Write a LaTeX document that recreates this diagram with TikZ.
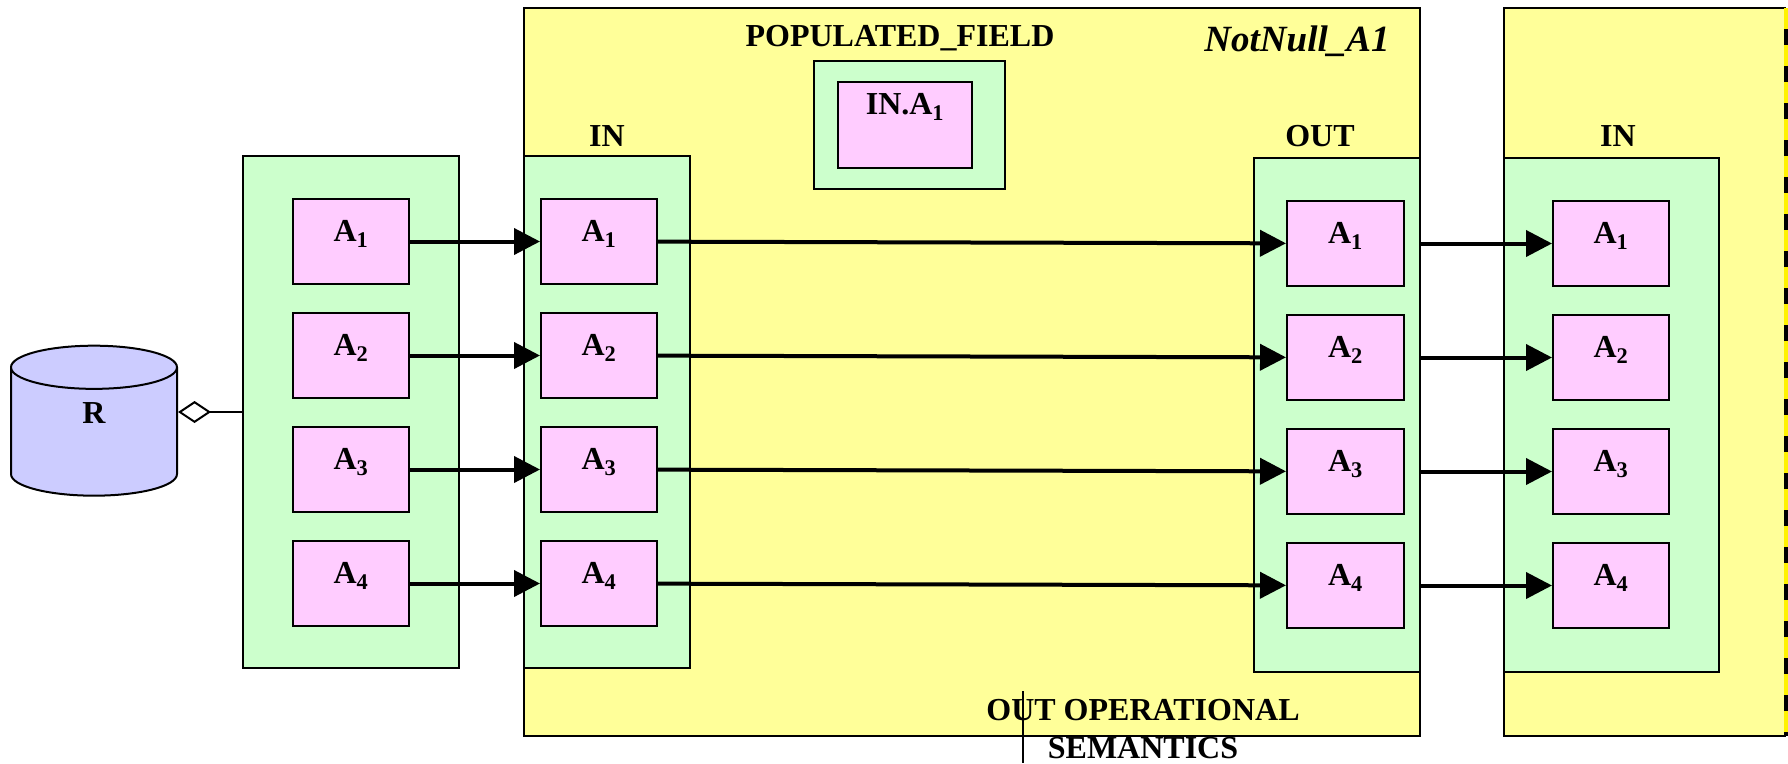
\documentclass[tikz,border=0pt]{standalone}
\usepackage{fontspec}
\setmainfont{Liberation Serif}
\usetikzlibrary{arrows.meta,shapes.geometric}
\definecolor{opyellow}{HTML}{FFFF99}
\definecolor{portgreen}{HTML}{CCFFCC}
\definecolor{attrpink}{HTML}{FFCCFF}
\definecolor{dbblue}{HTML}{CCCCFF}
\begin{document}
\begin{tikzpicture}[x=1pt, y=-1pt, font=\fontsize{32}{38}\selectfont\bfseries,
    op/.style={draw, line width=2pt, fill=opyellow, inner sep=0pt},
    port/.style={draw, line width=2pt, fill=portgreen, inner sep=0pt},
    attr/.style={draw, line width=2pt, fill=attrpink, inner sep=0pt,
      minimum width=116, minimum height=85, text height=20pt, text depth=20pt},
    flow/.style={line width=4pt, -{Triangle[length=26pt,width=26pt]}}]
    \useasboundingbox (0,0) rectangle (1788,763);

    \node[op, minimum width=896, minimum height=728] (nnop) at (972,372) {};
    \fill[opyellow] (1504,8) rectangle (1786,736);
    \draw[line width=2pt] (1786,8) -- (1504,8) -- (1504,736) -- (1786,736);
    \draw[line width=4pt, yellow] (1786,8) -- (1786,736);
    \draw[line width=4pt, dash pattern=on 16pt off 21pt, dash phase=16pt] (1786,8) -- (1786,736);

    \node[cylinder, shape border rotate=90, aspect=1.45, draw, line width=2pt, fill=dbblue,
      minimum width=166, minimum height=150, text height=0pt, text depth=24pt] (db) at (94,435) {R};

    \node[port, minimum width=216, minimum height=512] (lbox) at (351,412) {};
    \node[port, minimum width=166, minimum height=512] (inbox) at (607,412) {};
    \node[port, minimum width=166, minimum height=514] (outbox) at (1337,415) {};
    \node[port, minimum width=215, minimum height=514] (nbox) at (1611.5,415) {};
    \node[port, minimum width=191, minimum height=128] (pfbox) at (909.5,125) {};
    \node[attr, minimum width=134, minimum height=86, text height=10pt, text depth=32pt] (pfA) at (905,125) {IN.A\textsubscript{1}};

    \foreach \i in {1,...,4} {
      \node[attr] (lA\i) at (351,127.5+114*\i) {A\textsubscript{\i}};
      \node[attr] (inA\i) at (599,127.5+114*\i) {A\textsubscript{\i}};
      \node[attr, minimum width=117] (outA\i) at (1345.5,129.5+114*\i) {A\textsubscript{\i}};
      \node[attr] (nA\i) at (1611,129.5+114*\i) {A\textsubscript{\i}};
    }
    \foreach \i in {1,...,4} {
      \draw[flow] (lA\i) -- (inA\i);
      \draw[flow] (inA\i) -- (outA\i);
      \draw[flow] (outA\i.east -| outbox.east) -- (nA\i);
    }
    \draw[line width=2pt, {Diamond[open,length=33pt,width=22pt]}-] (lbox.west -| db.east) -- (lbox.west);

    \node[anchor=base] (pflabel) at (900,46) {POPULATED\_FIELD};
    \node[anchor=base, font=\fontsize{37}{44}\selectfont\bfseries\itshape] (oplabel) at (1297,51) {NotNull\_A1};
    \node[anchor=base] (inlabel) at (607,146) {IN};
    \node[anchor=base] (outlabel) at (1320,146) {OUT};
    \node[anchor=base] (nlabel) at (1618,146) {IN};
    \node[align=center, anchor=south, inner sep=0pt, text depth=0pt] (semlabel) at (1143,759) {OUT OPERATIONAL\\SEMANTICS};

    \coordinate (stub) at (1023,691);
    \draw[line width=1.5pt] (stub) -- (stub |- 0,763);
\end{tikzpicture}
\end{document}
